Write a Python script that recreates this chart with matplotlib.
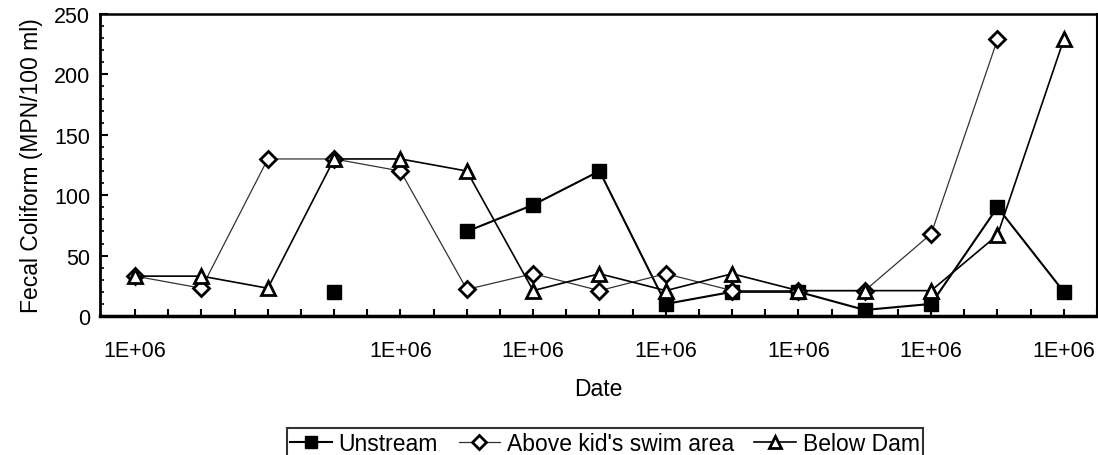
import matplotlib
matplotlib.use("Agg")
import matplotlib.pyplot as plt
import numpy as np

plt.rcParams['font.family'] = ['Liberation Sans', 'DejaVu Sans']

dates = list(range(15))
tick_positions = [0, 4, 6, 8, 10, 12, 14]
tick_labels = ["1E+06"] * 7

nan = np.nan
upstream = [nan, nan, nan, 20, nan, 70, 92, 120, 10, 20, 20, 5, 10, 90, 20]
above_swim = [33, 23, 130, 130, 120, 22, 35, 21, 35, 21, 21, 21, 68, 229, nan]
below_dam = [33, 33, 23, 130, 130, 120, 21, 35, 21, 35, 21, 21, 21, 67, 229]

fig = plt.figure(figsize=(10.98, 4.56), dpi=100)
ax = fig.add_axes([100/1098, 1-317/456, 997/1098, (317-15)/456])

ax.plot(dates, upstream, color='black', lw=1.5, marker='s', ms=10,
        mfc='black', mec='black', label='Unstream', zorder=3)
ax.plot(dates, above_swim, color='#333333', lw=0.9, marker='D', ms=8,
        mfc='white', mec='black', mew=2, label="Above kid's swim area", zorder=4)
ax.plot(dates, below_dam, color='black', lw=1.2, marker='^', ms=10.5,
        mfc='white', mec='black', mew=2, label='Below Dam', zorder=5)

ax.set_xlim(-0.53, 14.5)
ax.set_ylim(0, 250)
ax.set_yticks([0, 50, 100, 150, 200, 250])
ax.set_yticks(np.arange(0, 251, 10), minor=True)
ax.set_xticks(tick_positions)
ax.set_xticklabels(tick_labels)
ax.set_xticks(np.arange(0, 14.51, 0.5), minor=True)

ax.tick_params(axis='both', which='both', direction='in', color='black')
ax.tick_params(axis='x', which='both', length=5, width=1.5, pad=17, labelsize=15.5)
ax.tick_params(axis='y', which='major', length=6, width=1.5, pad=7, labelsize=15.5)
ax.tick_params(axis='y', which='minor', length=3, width=1.2)

ax.spines['bottom'].set_linewidth(2.5)
ax.spines['left'].set_linewidth(2)
ax.spines['top'].set_linewidth(1.8)
ax.spines['right'].set_linewidth(1.5)

ax.set_ylabel('Fecal Coliform (MPN/100 ml)', fontsize=16.5, labelpad=8)
ax.set_xlabel('Date', fontsize=16.5, labelpad=12)

leg = fig.legend(loc='upper center', bbox_to_anchor=(605/1098, 1-418/456),
                 ncol=3, frameon=True, fancybox=False, fontsize=16.5,
                 handlelength=1.8, handletextpad=0.3, columnspacing=0.9,
                 borderpad=0.15, markerscale=0.85)
leg.get_frame().set_edgecolor('black')
leg.get_frame().set_linewidth(1.5)

fig.savefig('out.png', dpi=100)
